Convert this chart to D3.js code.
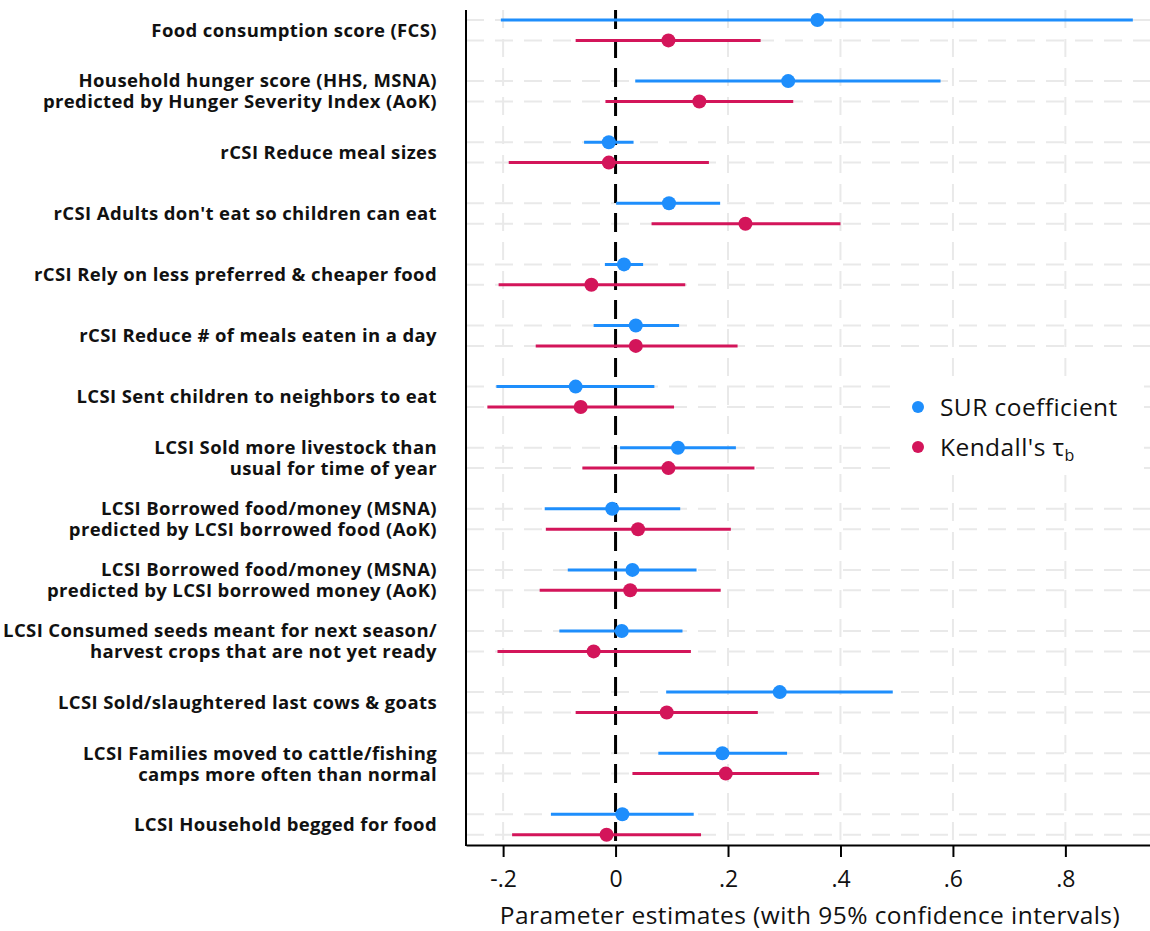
<!DOCTYPE html>
<html>
<head>
<meta charset="utf-8">
<script src="https://cdn.jsdelivr.net/npm/d3@7/dist/d3.min.js"></script>
<style>
  html, body { margin: 0; padding: 0; background: #fff; }
  svg { display: block; }
  text { font-family: "Open Sans", "Noto Sans", sans-serif; fill: #111; }
</style>
</head>
<body>
<svg id="chart" width="1150" height="931"></svg>
<script>
// Indicator labels (one entry per line of the wrapped label)
const categories = [
  ["Food consumption score (FCS)"],
  ["Household hunger score (HHS, MSNA)", "predicted by Hunger Severity Index (AoK)"],
  ["rCSI Reduce meal sizes"],
  ["rCSI Adults don't eat so children can eat"],
  ["rCSI Rely on less preferred & cheaper food"],
  ["rCSI Reduce # of meals eaten in a day"],
  ["LCSI Sent children to neighbors to eat"],
  ["LCSI Sold more livestock than", "usual for time of year"],
  ["LCSI Borrowed food/money (MSNA)", "predicted by LCSI borrowed food (AoK)"],
  ["LCSI Borrowed food/money (MSNA)", "predicted by LCSI borrowed money (AoK)"],
  ["LCSI Consumed seeds meant for next season/", "harvest crops that are not yet ready"],
  ["LCSI Sold/slaughtered last cows & goats"],
  ["LCSI Families moved to cattle/fishing", "camps more often than normal"],
  ["LCSI Household begged for food"]
];

// SUR coefficients with 95% CI
const surEst = [0.359, 0.307, -0.012, 0.095, 0.015, 0.036, -0.071, 0.111, -0.006, 0.030, 0.011, 0.292, 0.190, 0.012];
const surLo  = [-0.204, 0.035, -0.056, 0.001, -0.019, -0.039, -0.212, 0.008, -0.126, -0.085, -0.100, 0.090, 0.076, -0.115];
const surHi  = [0.920, 0.578, 0.032, 0.186, 0.049, 0.113, 0.069, 0.214, 0.115, 0.144, 0.119, 0.493, 0.305, 0.139];

// Kendall's tau-b with 95% CI
const kenEst = [0.094, 0.149, -0.012, 0.231, -0.043, 0.036, -0.062, 0.094, 0.040, 0.026, -0.039, 0.091, 0.196, -0.016];
const kenLo  = [-0.071, -0.018, -0.190, 0.064, -0.208, -0.142, -0.228, -0.059, -0.124, -0.135, -0.210, -0.071, 0.030, -0.184];
const kenHi  = [0.258, 0.316, 0.166, 0.400, 0.124, 0.217, 0.104, 0.247, 0.205, 0.187, 0.134, 0.253, 0.362, 0.152];

const seriesNames = ["SUR coefficient", "Kendall's τb"];
const tickValues = [-0.2, 0, 0.2, 0.4, 0.6, 0.8];
const tickLabels = ["-.2", "0", ".2", ".4", ".6", ".8"];
const xTitle = "Parameter estimates (with 95% confidence intervals)";

const blue = "#1e8efc";
const red = "#d3155a";
const gridColor = "#e9e9e9";

const svg = d3.select("#chart");
const plot = { left: 466, right: 1150, top: 10, bottom: 845 };

const x = d3.scaleLinear().domain([-0.266, 0.9505]).range([plot.left, plot.right]);
const catIdx = d3.range(categories.length);
const y = d3.scalePoint().domain(catIdx).range([30.2, 824.5]);
const offset = d3.scalePoint().domain([0, 1]).range([-10.2, 10.2]);

const series = [
  { name: seriesNames[0], color: blue, est: surEst, lo: surLo, hi: surHi },
  { name: seriesNames[1], color: red, est: kenEst, lo: kenLo, hi: kenHi }
];

// Gridlines
const grid = svg.append("g");
const rowYs = [];
catIdx.forEach(i => series.forEach((s, k) => rowYs.push(y(i) + offset(k))));
grid.selectAll("line.h").data(rowYs).enter().append("line")
  .attr("x1", plot.left).attr("x2", plot.right)
  .attr("y1", d => d).attr("y2", d => d)
  .attr("stroke", gridColor).attr("stroke-width", 2)
  .attr("stroke-dasharray", "18,11");
grid.selectAll("line.v").data(tickValues).enter().append("line")
  .attr("x1", d => x(d)).attr("x2", d => x(d))
  .attr("y1", plot.top).attr("y2", plot.bottom)
  .attr("stroke", gridColor).attr("stroke-width", 2)
  .attr("stroke-dasharray", "18,11");

// Zero reference line
svg.append("line")
  .attr("x1", x(0)).attr("x2", x(0))
  .attr("y1", plot.top).attr("y2", plot.bottom)
  .attr("stroke", "#000").attr("stroke-width", 3)
  .attr("stroke-dasharray", "19,10");

// Confidence intervals and point estimates
series.forEach((s, k) => {
  const g = svg.append("g");
  g.selectAll("line").data(catIdx).enter().append("line")
    .attr("x1", i => x(s.lo[i])).attr("x2", i => x(s.hi[i]))
    .attr("y1", i => y(i) + offset(k)).attr("y2", i => y(i) + offset(k))
    .attr("stroke", s.color).attr("stroke-width", 3);
  g.selectAll("circle").data(catIdx).enter().append("circle")
    .attr("cx", i => x(s.est[i])).attr("cy", i => y(i) + offset(k))
    .attr("r", 7).attr("fill", s.color);
});

// Axes
const xAxis = d3.axisBottom(x).tickValues(tickValues)
  .tickFormat((d, i) => tickLabels[i]).tickSize(12).tickPadding(14).tickSizeOuter(0);
const gx = svg.append("g").attr("transform", `translate(0,${plot.bottom})`).call(xAxis);
gx.select(".domain").attr("stroke", "#000").attr("stroke-width", 2);
gx.selectAll(".tick line").attr("stroke", "#000").attr("stroke-width", 2);
gx.selectAll(".tick text").attr("font-size", 23).attr("fill", "#111")
  .style("font-family", "'Open Sans', sans-serif");

svg.append("line")
  .attr("x1", plot.left).attr("x2", plot.left)
  .attr("y1", plot.top).attr("y2", plot.bottom + 1)
  .attr("stroke", "#000").attr("stroke-width", 2);

svg.append("text")
  .attr("x", 810).attr("y", 924)
  .attr("text-anchor", "middle").attr("font-size", 24.5)
  .attr("letter-spacing", 0.44)
  .text(xTitle);

// Category labels
const lineGap = 21;
const labels = svg.append("g").attr("text-anchor", "end")
  .attr("font-size", 18.5).attr("font-weight", 700).attr("letter-spacing", 0.38);
catIdx.forEach(i => {
  const lines = categories[i];
  const t = labels.append("text").attr("x", 437)
    .attr("y", y(i) - (lines.length - 1) * lineGap / 2);
  lines.forEach((ln, j) => {
    t.append("tspan").attr("x", 437).attr("dy", j === 0 ? "0.36em" : lineGap).text(ln);
  });
});

// Legend
const legend = svg.append("g");
legend.append("rect").attr("x", 894).attr("y", 378).attr("width", 250).attr("height", 97)
  .attr("fill", "#fff");
const legY = [407, 447];
series.forEach((s, k) => {
  legend.append("circle").attr("cx", 918).attr("cy", legY[k]).attr("r", 6).attr("fill", s.color);
});
legend.append("text").attr("x", 940).attr("y", legY[0]).attr("dy", "0.36em")
  .attr("font-size", 24.5).attr("letter-spacing", 0.44).text(seriesNames[0]);
const kt = legend.append("text").attr("x", 940).attr("y", legY[1]).attr("dy", "0.36em")
  .attr("font-size", 24.5).attr("letter-spacing", 0.44);
kt.append("tspan").text(seriesNames[1].slice(0, -1));
kt.append("tspan").attr("font-size", 16).attr("dy", 5).text(seriesNames[1].slice(-1));
</script>
</body>
</html>
